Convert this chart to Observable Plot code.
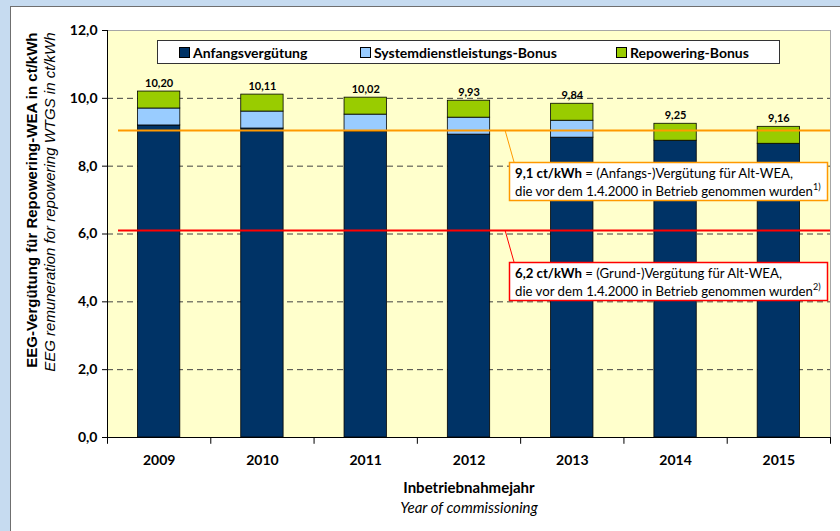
<!DOCTYPE html>
<html>
<head>
<meta charset="utf-8">
<script src="https://cdn.jsdelivr.net/npm/d3@7"></script>
<script src="https://cdn.jsdelivr.net/npm/@observablehq/plot@0.6"></script>
<style>
  html, body { margin: 0; padding: 0; background: #c6dbf0; }
  #wrap { position: relative; width: 840px; height: 531px; overflow: hidden; font-family: Lato, "Noto Sans", sans-serif; }
  #panel { position: absolute; left: 10px; top: 6px; width: 840px; height: 540px; background: #fff; border: 1px solid #6f6f6f; }
  #chart { position: absolute; left: 0; top: 0; }
  #legend { position: absolute; left: 157px; top: 40px; width: 621px; height: 22px; background: #fff; border: 1px solid #333; }
  .lg-item { position: absolute; top: 0; height: 22px; display: flex; align-items: center; font-weight: bold; font-size: 14px; color: #000; white-space: nowrap; }
  .lg-sw { width: 9px; height: 9px; border: 1px solid #000; margin-right: 3px; }
</style>
</head>
<body>
<div id="wrap">
  <div id="panel"></div>
  <div id="chart"></div>
  <div id="legend"></div>
</div>
<script>
// ---- data ----
const years = ["2009", "2010", "2011", "2012", "2013", "2014", "2015"];
const anfangsverguetung = [9.20, 9.11, 9.02, 8.93, 8.84, 8.75, 8.66];
const sdlBonus = [0.50, 0.50, 0.50, 0.50, 0.50, 0, 0];
const repoweringBonus = [0.50, 0.50, 0.50, 0.50, 0.50, 0.50, 0.50];
const totalLabels = ["10,20", "10,11", "10,02", "9,93", "9,84", "9,25", "9,16"];
const seriesNames = ["Anfangsvergütung", "Systemdienstleistungs-Bonus", "Repowering-Bonus"];
const seriesColors = ["#003366", "#99ccff", "#99cc00"];
const yTicks = [0, 2, 4, 6, 8, 10, 12];
const gridTicks = [2, 4, 6, 8, 10];
const refValues = [9.05, 6.1];
const refColors = ["#ff9900", "#ff0000"];
const refBold = ["9,1 ct/kWh", "6,2 ct/kWh"];
const refText = [" = (Anfangs-)Vergütung für Alt-WEA,", " = (Grund-)Vergütung für Alt-WEA,"];
const refLine2 = "die vor dem 1.4.2000 in Betrieb genommen wurden";
const refNotes = ["1)", "2)"];
const yTitle = "EEG-Vergütung für Repowering-WEA in ct/kWh";
const yTitleEn = "EEG remuneration for repowering WTGS in ct/kWh";
const xTitle = "Inbetriebnahmejahr";
const xTitleEn = "Year of commissioning";

// ---- tables ----
const seriesValues = [anfangsverguetung, sdlBonus, repoweringBonus];
const rows = years.flatMap((yr, i) => seriesNames.map((s, k) => ({year: yr, series: s, value: seriesValues[k][i]})))
  .filter(d => d.value > 0);
const totals = years.map((yr, i) => ({year: yr, total: anfangsverguetung[i] + sdlBonus[i] + repoweringBonus[i], label: totalLabels[i]}));

// ---- layout ----
const W = 840, H = 531, mL = 107, mR = 10, mT = 30, mB = 94;
const step = (W - mL - mR) / years.length;
const fmt = d => d.toFixed(1).replace(".", ",");

const plot = Plot.plot({
  width: W, height: H,
  marginLeft: mL, marginRight: mR, marginTop: mT, marginBottom: mB,
  style: {background: "transparent", fontFamily: "Lato, 'Noto Sans', sans-serif", color: "#000", overflow: "visible"},
  x: {type: "band", domain: years, paddingInner: 0.59, paddingOuter: 0.295, round: false, label: null},
  y: {domain: [0, 12], label: null},
  color: {domain: seriesNames, range: seriesColors},
  marks: [
    Plot.frame({fill: "#ffffcc", stroke: "#a6a6a6"}),
    Plot.gridY(gridTicks, {stroke: "#404040", strokeOpacity: 1, strokeDasharray: "6,4"}),
    Plot.barY(rows, {x: "year", y: "value", fill: "series", stroke: "#000", strokeWidth: 0.8}),
    ...refValues.map((v, i) => Plot.ruleY([v], {stroke: refColors[i], strokeWidth: 2, insetLeft: 11})),
    Plot.text(totals, {x: "year", y: "total", text: "label", dy: -8, fontWeight: "bold", fontSize: 11}),
    Plot.ruleY([0], {stroke: "#000"}),
    Plot.frame({anchor: "left", stroke: "#000"}),
    Plot.ruleX(years, {x: d => d, dx: -step / 2, y1: 0, y2: -0.2, stroke: "#000"}),
    Plot.ruleX([years[years.length - 1]], {x: d => d, dx: step / 2, y1: 0, y2: -0.2, stroke: "#000"}),
    Plot.axisY({ticks: yTicks, tickSize: 5, tickPadding: 5, tickFormat: fmt, fontWeight: "bold", fontSize: 14, stroke: "#000", label: null}),
    Plot.axisX({tickSize: 0, tickPadding: 18, fontWeight: "bold", fontSize: 14, label: null}),
    Plot.text([yTitle], {frameAnchor: "top-left", text: d => d, rotate: -90, textAnchor: "end", dx: -81, dy: 2,
      fontFamily: "Liberation Sans", fontWeight: "bold", fontSize: 15}),
    Plot.text([yTitleEn], {frameAnchor: "top-left", text: d => d, rotate: -90, textAnchor: "end", dx: -63, dy: 2,
      fontFamily: "Liberation Sans", fontStyle: "italic", fontSize: 15}),
    Plot.text([xTitle], {frameAnchor: "bottom", text: d => d, dy: 55, fontWeight: "bold", fontSize: 15}),
    Plot.text([xTitleEn], {frameAnchor: "bottom", text: d => d, dy: 75, fontStyle: "italic", fontSize: 15})
  ]
});
document.getElementById("chart").appendChild(plot);

// ---- reference annotations (positioned via the y scale) ----
const ys = plot.scale("y");
const svg = d3.select(plot);
refValues.forEach((v, i) => {
  const y0 = ys.apply(v);
  const top = Math.round(y0) + 32;
  const g = svg.append("g").attr("font-family", "Lato, 'Noto Sans', sans-serif").attr("text-anchor", "start");
  g.append("line").attr("x1", 505).attr("y1", y0).attr("x2", 514).attr("y2", top)
    .attr("stroke", refColors[i]).attr("stroke-width", 1);
  g.append("rect").attr("x", 509.5).attr("y", top + 0.5).attr("width", 318).attr("height", 38)
    .attr("fill", "#fff").attr("stroke", refColors[i]).attr("stroke-width", 1.5);
  const t1 = g.append("text").attr("x", 515).attr("y", top + 16).attr("font-size", 13.2).attr("fill", "#000");
  t1.append("tspan").attr("font-weight", "bold").text(refBold[i]);
  t1.append("tspan").text(refText[i]);
  const t2 = g.append("text").attr("x", 515).attr("y", top + 34).attr("font-size", 13.2).attr("fill", "#000");
  t2.append("tspan").text(refLine2);
  t2.append("tspan").attr("font-size", 9).attr("dy", -6).text(refNotes[i]);
});

// ---- legend ----
const color = plot.scale("color");
const legendX = [21, 202, 458];
const lg = d3.select("#legend");
seriesNames.forEach((s, i) => {
  const it = lg.append("div").attr("class", "lg-item").style("left", legendX[i] + "px");
  it.append("div").attr("class", "lg-sw").style("background", color.apply(s));
  it.append("span").text(s);
});
</script>
</body>
</html>
